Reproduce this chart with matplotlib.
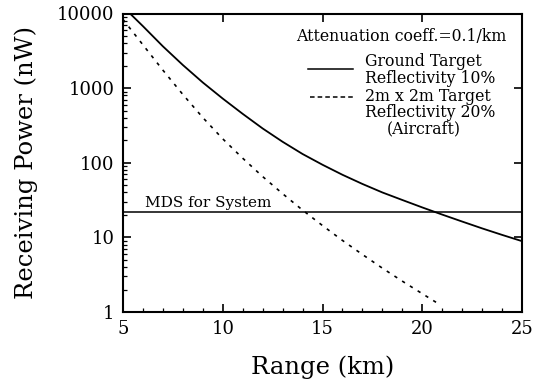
import numpy as np
import matplotlib
matplotlib.use("Agg")
import matplotlib.pyplot as plt
from matplotlib.ticker import FixedLocator, NullFormatter, LogLocator

# values (range in km, power in nW)
range_ground = [5.35, 6, 7, 8, 9, 10, 11, 12, 13, 14, 15, 16, 17, 18, 19, 20,
                21, 22, 23, 24, 25]
power_ground = [10000, 6760, 3630, 2040, 1190, 724, 452, 288, 191, 131, 94, 69,
                52, 40, 31.7, 25.2, 20.2, 16.3, 13.2, 10.8, 8.9]

range_air = [5, 6, 7, 8, 9, 10, 11, 12, 13, 14, 15, 16, 17, 18, 19, 20, 20.75]
power_air = [8320, 3800, 1740, 822, 403, 209, 115, 65.3, 38.5, 23.2, 14.4, 9.1,
             5.9, 3.87, 2.59, 1.76, 1.32]

mds_level = 21.8
x_ticks = [5, 10, 15, 20, 25]
y_ticks = [1, 10, 100, 1000, 10000]
y_labels = ["1", "10", "100", "1000", "10000"]

plt.rcParams['font.family'] = ['DejaVu Serif']

fig = plt.figure(figsize=(5.41, 3.86), dpi=100)
ax = fig.add_axes([123/541, 1-312/386, 399/541, 298.5/386])

ax.plot(range_ground, power_ground, color="black", lw=1.3)
ax.plot(range_air, power_air, color="black", lw=1.2, linestyle=(0, (2, 3.5)))
ax.axhline(mds_level, color="black", lw=1.1)
ax.text(6.1, mds_level*1.07, "MDS for System", fontsize=11, ha="left", va="bottom")

ax.set_yscale("log")
ax.set_xlim(5, 25)
ax.set_ylim(1, 10000)
ax.set_xticks(x_ticks)
ax.xaxis.set_minor_locator(FixedLocator(np.arange(5, 26, 1)))
ax.set_yticks(y_ticks)
ax.set_yticklabels(y_labels)
ax.yaxis.set_minor_locator(LogLocator(base=10, subs=np.arange(2, 10)))
ax.yaxis.set_minor_formatter(NullFormatter())
ax.tick_params(which="major", direction="in", length=6, width=1.2, labelsize=13,
               top=True, right=True, pad=6)
ax.tick_params(which="minor", direction="in", length=3, width=0.9, top=False, right=False)
for s in ax.spines.values():
    s.set_linewidth(1.5)

ax.set_xlabel("Range (km)", fontsize=17.5, labelpad=12)
ax.set_ylabel("Receiving Power (nW)", fontsize=17.5, labelpad=14)

# legend drawn by hand, as in the original
fs = 11.3
ax.text(0.960, 0.922, "Attenuation coeff.=0.1/km", transform=ax.transAxes,
        fontsize=fs, ha="right", va="center")
ax.plot([0.464, 0.576], [0.813, 0.813], transform=ax.transAxes, color="black", lw=1.1)
ax.text(0.607, 0.8385, "Ground Target", transform=ax.transAxes, fontsize=fs, ha="left", va="center")
ax.text(0.607, 0.783, "Reflectivity 10%", transform=ax.transAxes, fontsize=fs, ha="left", va="center")
ax.plot([0.469, 0.576], [0.721, 0.721], transform=ax.transAxes, color="black", lw=1.1,
        linestyle=(0, (3, 2)))
ax.text(0.607, 0.721, "2m x 2m Target", transform=ax.transAxes, fontsize=fs, ha="left", va="center")
ax.text(0.607, 0.667, "Reflectivity 20%", transform=ax.transAxes, fontsize=fs, ha="left", va="center")
ax.text(0.662, 0.615, "(Aircraft)", transform=ax.transAxes, fontsize=fs, ha="left", va="center")

fig.savefig("out.png", dpi=100)
